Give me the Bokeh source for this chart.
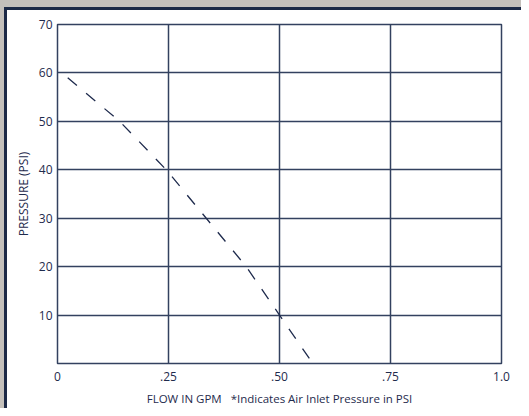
from bokeh.plotting import figure
from bokeh.models import FixedTicker, Range1d
from bokeh.embed import file_html
from bokeh.resources import INLINE

# Data
flow_gpm = [0.023, 0.14, 0.245, 0.335, 0.425, 0.50, 0.575]
pressure_psi = [59, 50, 40, 30, 20, 10, 0]

x_ticks = [0, 0.25, 0.5, 0.75, 1.0]
x_tick_labels = ["0", ".25", ".50", ".75", "1.0"]
y_ticks = [10, 20, 30, 40, 50, 60, 70]
y_tick_labels = ["10", "20", "30", "40", "50", "60", "70"]

NAVY = "#1f2b4d"
GRID = "#33415f"
FONT = "Open Sans"
BAND = "#1c2946"

p = figure(width=521, height=408, output_backend="svg", toolbar_location=None,
           x_range=Range1d(0, 1.0), y_range=Range1d(0, 70),
           min_border_left=57, min_border_right=20, min_border_top=24,
           min_border_bottom=43)

p.line(flow_gpm, pressure_psi, line_color=NAVY, line_width=1.3, line_dash="12 12")

p.background_fill_color = "white"
p.border_fill_color = None
p.outline_line_color = GRID
p.outline_line_width = 1.5

for ax in (p.xaxis, p.yaxis):
    ax.axis_line_color = None
    ax.major_tick_line_color = None
    ax.minor_tick_line_color = None
    ax.major_tick_out = 0
    ax.major_tick_in = 0
    ax.minor_tick_out = 0
    ax.major_label_text_color = NAVY
    ax.major_label_text_font = FONT
    ax.major_label_text_font_size = "12px"
    ax.axis_label_text_color = NAVY
    ax.axis_label_text_font = FONT
    ax.axis_label_text_font_size = "12px"
    ax.axis_label_text_font_style = "normal"

p.xaxis.axis_label_text_font_size = "11.5px"

p.xaxis.ticker = FixedTicker(ticks=x_ticks)
p.xaxis.major_label_overrides = dict(zip(x_ticks, x_tick_labels))
p.yaxis.ticker = FixedTicker(ticks=y_ticks)
p.yaxis.major_label_overrides = dict(zip(y_ticks, y_tick_labels))
p.xaxis.major_label_standoff = 8
p.yaxis.major_label_standoff = 5
p.xaxis.axis_label = "FLOW IN GPM\u00a0\u00a0\u00a0*Indicates Air Inlet Pressure in PSI"
p.yaxis.axis_label = "PRESSURE (PSI)"
p.xaxis.axis_label_standoff = 7
p.yaxis.axis_label_standoff = 4

p.xgrid.ticker = FixedTicker(ticks=[0.25, 0.5, 0.75])
p.ygrid.ticker = FixedTicker(ticks=[10, 20, 30, 40, 50, 60])
for g in (p.xgrid, p.ygrid):
    g.grid_line_color = GRID
    g.grid_line_width = 1.5

# page frame behind the transparent border area: gray bezel, dark band, white panel
p.styles = {
    "background": ("linear-gradient(#ffffff,#ffffff) 7px 10px / 100% 100% no-repeat, "
                   f"linear-gradient({BAND},{BAND}) 4px 7px / 100% 100% no-repeat, "
                   "#c4c0bb"),
}

open("out.html", "w").write(file_html(p, INLINE))
